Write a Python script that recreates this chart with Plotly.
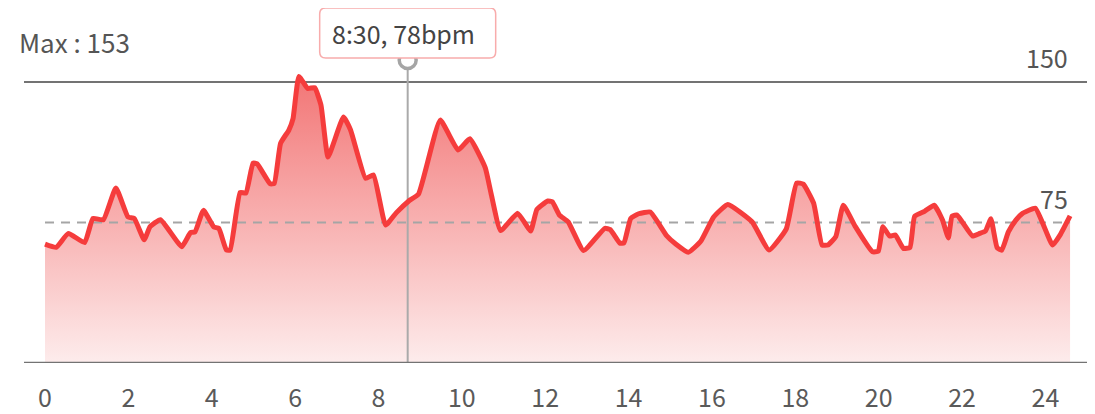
import plotly.graph_objects as go

# ---- data (hour of day, heart rate bpm) ----
hours = [0.00, 0.27, 0.56, 0.95, 1.15, 1.40, 1.70, 1.99, 2.14, 2.38, 2.52, 2.77, 3.28, 3.49, 3.60,
         3.80, 4.05, 4.17, 4.35, 4.44, 4.68, 4.82, 4.99, 5.09, 5.40, 5.50, 5.65, 5.85, 5.95, 6.09,
         6.30, 6.47, 6.62, 6.79, 7.16, 7.33, 7.69, 7.88, 8.17, 8.43, 8.72, 8.96, 9.48, 9.91, 10.19,
         10.56, 10.70, 10.93, 11.34, 11.65, 11.80, 12.06, 12.17, 12.34, 12.55, 12.92, 13.43, 13.56,
         13.79, 13.89, 14.05, 14.24, 14.52, 14.91, 15.13, 15.43, 15.73, 16.04, 16.38, 16.96, 17.37,
         17.78, 18.03, 18.19, 18.44, 18.64, 18.78, 18.97, 19.15, 19.44, 19.85, 19.99, 20.10, 20.26,
         20.40, 20.59, 20.75, 20.86, 21.10, 21.33, 21.53, 21.67, 21.76, 21.88, 22.25, 22.42, 22.56,
         22.69, 22.84, 22.95, 23.11, 23.29, 23.45, 23.76, 24.17, 24.36, 24.59]
bpm = [63.5, 61.8, 69.2, 64.3, 77.2, 76.5, 93.5, 78.0, 77.2, 65.8, 72.8, 76.5, 62.1, 69.6, 70.1,
       81.5, 72.6, 71.9, 60.3, 60.3, 91.0, 90.8, 106.7, 106.3, 95.7, 95.9, 117.3, 124.4, 130.5, 153.0,
       146.6, 147.0, 137.7, 110.0, 131.3, 124.4, 98.6, 100.4, 73.7, 80.3, 86.4, 90.2, 129.7, 113.7, 119.7,
       104.3, 90.6, 70.7, 79.9, 70.5, 82.0, 86.5, 86.1, 79.0, 75.4, 60.1, 71.9, 71.2,
       64.0, 64.2, 77.2, 79.7, 80.6, 68.0, 63.5, 59.1, 65.0, 78.0, 84.6, 75.4, 60.3,
       71.5, 96.1, 95.5, 85.2, 63.0, 63.0, 67.5, 84.3, 72.8, 59.4, 59.7, 72.8, 67.8,
       68.3, 61.2, 61.7, 78.3, 81.0, 84.3, 76.3, 66.8, 78.5, 79.0, 67.8, 69.2, 70.5,
       77.0, 61.5, 60.2, 70.0, 76.3, 79.9, 82.6, 63.0, 68.7, 78.5]

tick_vals = list(range(0, 25, 2))
tick_text = [str(v) for v in tick_vals]
ref_high = 150
ref_mid = 75
max_label = "Max : 153"
cursor_hour = 8.70
cursor_label = "8:30, 78bpm"
marker_level = 161.8
y_max = 165

FONT = "Noto Sans CJK SC"
RED = "#F53C3C"
GRAY_TEXT = "#555555"

fig = go.Figure()

# gradient fill
fig.add_trace(go.Scatter(
    x=hours, y=bpm, mode="lines", fill="tozeroy",
    line=dict(width=0, shape="spline", smoothing=0.4),
    fillgradient=dict(type="vertical", start=0, stop=153,
                      colorscale=[[0, "rgb(253,236,236)"], [0.5, "rgb(248,176,176)"], [1, "rgb(242,118,118)"]]),
    hoverinfo="skip", showlegend=False))

# dashed 75 reference
fig.add_trace(go.Scatter(
    x=[hours[0], hours[-1]], y=[ref_mid, ref_mid], mode="lines",
    line=dict(color="rgb(165,165,165)", width=2, dash="9px,7px"),
    hoverinfo="skip", showlegend=False))

# cursor line
fig.add_trace(go.Scatter(
    x=[cursor_hour, cursor_hour], y=[0, marker_level], mode="lines",
    line=dict(color="rgb(170,170,170)", width=2),
    hoverinfo="skip", showlegend=False, cliponaxis=False))

# main line
fig.add_trace(go.Scatter(
    x=hours, y=bpm, mode="lines",
    line=dict(color=RED, width=5, shape="spline", smoothing=0.4),
    showlegend=False))

# cursor marker
fig.add_trace(go.Scatter(
    x=[cursor_hour], y=[marker_level], mode="markers",
    marker=dict(size=17, color="white", line=dict(color="rgb(165,165,165)", width=3.5)),
    hoverinfo="skip", showlegend=False, cliponaxis=False))

shapes = [
    dict(type="line", xref="paper", yref="y", x0=0, x1=1, y0=ref_high, y1=ref_high,
         line=dict(color="rgb(115,115,115)", width=2), layer="below"),
    dict(type="line", xref="paper", yref="y", x0=0, x1=1, y0=0, y1=0,
         line=dict(color="rgb(115,115,115)", width=2.5), layer="above"),
    # tooltip box with rounded corners (pixel-sized)
    dict(type="path", xref="x", yref="paper", xsizemode="pixel", ysizemode="pixel",
         xanchor=cursor_hour, yanchor=1.068,
         path="M -82,-25 L 82,-25 Q 88,-25 88,-19 L 88,19 Q 88,25 82,25 L -82,25 "
              "Q -88,25 -88,19 L -88,-19 Q -88,-25 -82,-25 Z",
         line=dict(color="rgb(248,172,172)", width=1.5), fillcolor="white", layer="above"),
]

annotations = [
    dict(text=max_label, xref="paper", yref="paper", x=0, xshift=-7, y=1.042,
         xanchor="left", yanchor="middle", showarrow=False,
         font=dict(family=FONT, size=26, color=GRAY_TEXT)),
    dict(text=str(ref_high), xref="x", yref="y", x=hours[-1], y=ref_high, yshift=25,
         xanchor="right", yanchor="middle", showarrow=False,
         font=dict(family=FONT, size=25, color=GRAY_TEXT)),
    dict(text=str(ref_mid), xref="x", yref="y", x=hours[-1], y=ref_mid, yshift=25,
         xanchor="right", yanchor="middle", showarrow=False,
         font=dict(family=FONT, size=25, color=GRAY_TEXT)),
    dict(text=cursor_label, xref="x", yref="paper", x=cursor_hour, xshift=-4, y=1.068,
         xanchor="center", yanchor="middle", showarrow=False,
         font=dict(family=FONT, size=25, color="#444444")),
]

fig.update_layout(
    width=1087, height=406,
    margin=dict(l=16, r=7, t=46, b=51, autoexpand=False),
    paper_bgcolor="white", plot_bgcolor="white",
    shapes=shapes, annotations=annotations,
    font=dict(family=FONT),
    xaxis=dict(range=[-0.504, 25.02], tickvals=tick_vals, ticktext=tick_text,
               showgrid=False, zeroline=False, showline=False, ticks="",
               ticklabelstandoff=18, automargin=False,
               tickfont=dict(family=FONT, size=25, color="#5a5a5a"), fixedrange=True),
    yaxis=dict(range=[0, y_max], showgrid=False, zeroline=False, showline=False,
               showticklabels=False, ticks="", fixedrange=True, automargin=False),
    hovermode=False,
)

fig.write_html("out.html")
